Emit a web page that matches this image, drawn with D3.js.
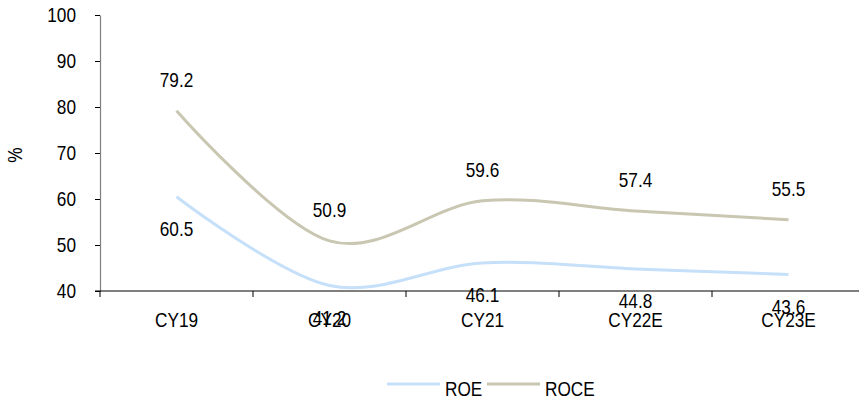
<!DOCTYPE html>
<html>
<head>
<meta charset="utf-8">
<script src="https://cdn.jsdelivr.net/npm/d3@7"></script>
<style>
  html, body { margin: 0; padding: 0; background: #fff; }
  svg text { font-family: "Liberation Sans", Arial, sans-serif; fill: #000; font-size: 21px; }
</style>
</head>
<body>
<svg id="chart" width="859" height="403"></svg>
<script>
// Return ratios by year
const categories = ["CY19", "CY20", "CY21", "CY22E", "CY23E"];
const roe = [60.5, 41.2, 46.1, 44.8, 43.6];
const roce = [79.2, 50.9, 59.6, 57.4, 55.5];
const yTicks = [40, 50, 60, 70, 80, 90, 100];
const seriesNames = ["ROE", "ROCE"];
const seriesColors = ["#c6e0fa", "#c9c6b1"];

const svg = d3.select("#chart");
const margin = { left: 100, top: 15, bottom: 291 };
const bandW = 153;
const narrow = 0.82; // horizontal squeeze for a narrow face

// place a text at (x, y) with a narrowed glyph width
const place = (sel, fx, fy) => sel.attr("transform", (d, i) => `translate(${fx(d, i)},${fy(d, i)}) scale(${narrow},1)`);

const x = d3.scaleBand().domain(categories).range([margin.left, margin.left + bandW * categories.length]);
const y = d3.scaleLinear().domain([40, 100]).range([margin.bottom, margin.top]);
const cx = d => x(d) + x.bandwidth() / 2;

// Y axis
const yAxis = svg.append("g").attr("transform", `translate(${margin.left},0)`)
  .call(d3.axisLeft(y).tickValues(yTicks).tickSize(5).tickSizeOuter(0).tickFormat(""));
yAxis.select(".domain").attr("stroke", "#7f7f7f").attr("stroke-width", 1.2);
yAxis.selectAll(".tick line").attr("stroke", "#000");
svg.append("g").selectAll("text").data(yTicks).join("text")
  .attr("text-anchor", "end").attr("dy", "0.35em").text(d => d)
  .call(place, () => 76, d => y(d));

// X axis
const xAxis = svg.append("g").attr("transform", `translate(0,${margin.bottom})`);
xAxis.append("line").attr("x1", margin.left - 5).attr("x2", 859)
  .attr("stroke", "#000").attr("stroke-width", 1.2);
const tickPos = d3.range(categories.length + 1).map(i => margin.left + i * bandW);
xAxis.selectAll("line.tk").data(tickPos).join("line").attr("class", "tk")
  .attr("x1", d => d).attr("x2", d => d).attr("y1", 0).attr("y2", 6)
  .attr("stroke", "#000");
xAxis.selectAll("text").data(categories).join("text")
  .attr("text-anchor", "middle").text(d => d)
  .call(place, d => cx(d), () => 36);

// Y title
svg.append("text").attr("transform", `translate(22,155) rotate(-90) scale(${narrow},1)`)
  .attr("text-anchor", "middle").text("%");

// Smoothed lines
const line = d3.line().x((d, i) => cx(categories[i])).y(d => y(d)).curve(d3.curveCardinal.tension(0));
[roe, roce].forEach((vals, k) => {
  svg.append("path").datum(vals).attr("d", line)
    .attr("fill", "none").attr("stroke", seriesColors[k]).attr("stroke-width", 3);
});

// Value labels: ROE below the line, ROCE above
svg.selectAll("text.roe").data(roe).join("text").attr("class", "roe")
  .attr("text-anchor", "middle").text(d => d.toFixed(1))
  .call(place, (d, i) => cx(categories[i]), d => y(d) + 39.5);
svg.selectAll("text.roce").data(roce).join("text").attr("class", "roce")
  .attr("text-anchor", "middle").text(d => d.toFixed(1))
  .call(place, (d, i) => cx(categories[i]), d => y(d) - 24);

// Legend
const lg = svg.append("g").attr("transform", "translate(387,384)");
seriesNames.forEach((n, k) => {
  const g = lg.append("g").attr("transform", `translate(${k * 100},0)`);
  g.append("line").attr("x1", 0).attr("x2", 53).attr("stroke", seriesColors[k]).attr("stroke-width", 3);
  g.append("text").attr("transform", `translate(58,12) scale(${narrow},1)`).text(n);
});
</script>
</body>
</html>
